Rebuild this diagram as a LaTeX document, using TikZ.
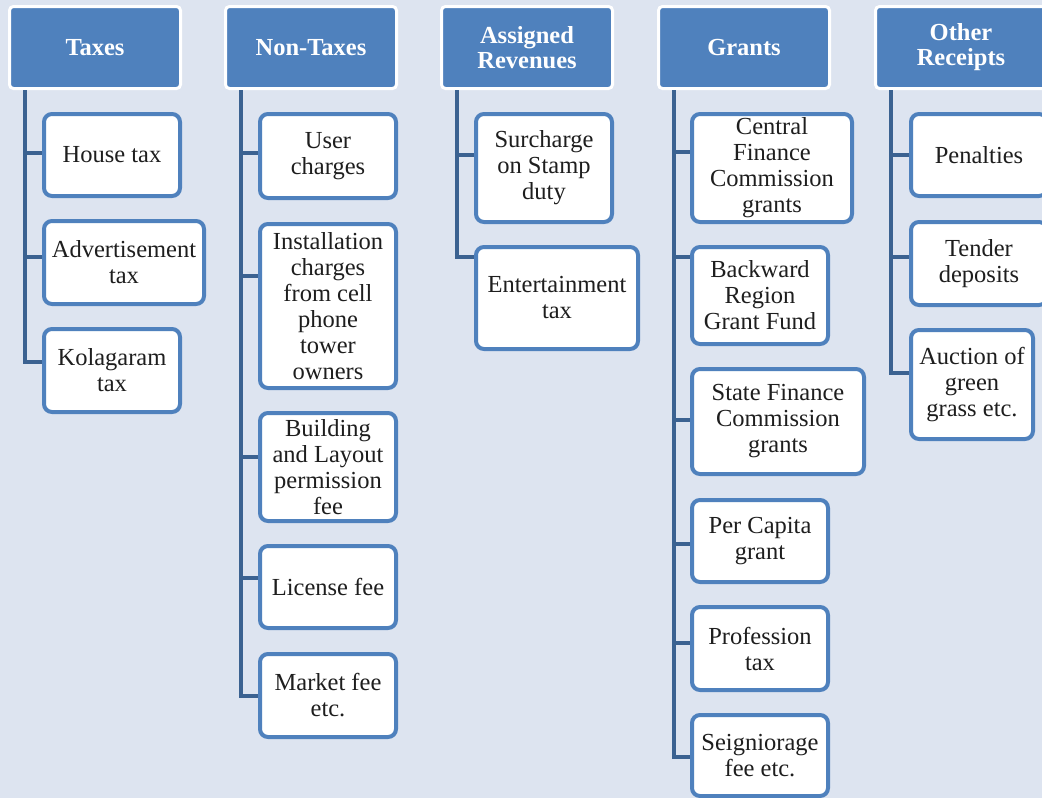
\documentclass[tikz,border=0pt]{standalone}
\usepackage{fontspec}
\setmainfont{Liberation Serif}
\usepackage{tikz}
\usetikzlibrary{%
        positioning
    }
\definecolor{page}{RGB}{221, 228, 240}
\definecolor{office}{RGB}{79, 129, 189}
\definecolor{stem}{RGB}{59, 98, 145}
\definecolor{ink}{RGB}{30, 30, 30}
\tikzset{%
    head/.style={%
        draw=white, line width=3pt, fill=office, rounded corners=4pt,
        anchor=north west, inner sep=0pt, align=center,
        minimum width=171pt, minimum height=82pt,
        text=white, font=\fontsize{24.5pt}{25pt}\selectfont\bfseries
    },
    item/.style={%
        draw=office, line width=4pt, fill=white, rounded corners=8pt,
        anchor=north west, inner sep=0pt, align=center,
        text=ink, font=\fontsize{24.5pt}{26pt}\selectfont
    },
    link/.style={%
        draw=stem, line width=4.5pt
    }
}

\begin{document}
\begin{tikzpicture}[x=1pt, y=-1pt]

    % Page
    \fill[page] (0, 0) rectangle (1042, 798);
    \useasboundingbox (0, 0) rectangle (1042, 798);

    % Headers
    \node[head] (taxes)    at (8, 5)   {Taxes};
    \node[head] (nontaxes) at (224, 5) {Non-Taxes};
    \node[head] (assigned) at (440, 5) {Assigned\\Revenues};
    \node[head] (grants)   at (657, 5) {Grants};
    \node[head] (other)    at (874, 5) {Other\\Receipts};

    % Taxes
    \node[item, minimum width=136pt, minimum height=82pt] (t1) at (42, 112) {House tax};
    \node[item, minimum width=160pt, minimum height=83pt] (t2) at (42, 219) {Advertisement\\tax};
    \node[item, minimum width=136pt, minimum height=83pt] (t3) at (42, 327) {Kolagaram\\tax};

    % Non-Taxes
    \node[item, minimum width=136pt, minimum height=84pt]  (n1) at (258, 112) {User\\charges};
    \node[item, minimum width=136pt, minimum height=164pt] (n2) at (258, 222)
        {Installation\\charges\\from cell\\phone\\tower\\owners};
    \node[item, minimum width=136pt, minimum height=108pt] (n3) at (258, 411)
        {Building\\and Layout\\permission\\fee};
    \node[item, minimum width=136pt, minimum height=82pt]  (n4) at (258, 544) {License fee};
    \node[item, minimum width=136pt, minimum height=83pt]  (n5) at (258, 652) {Market fee\\etc.};

    % Assigned Revenues
    \node[item, minimum width=136pt, minimum height=108pt] (a1) at (474, 112) {Surcharge\\on Stamp\\duty};
    \node[item, minimum width=162pt, minimum height=102pt] (a2) at (474, 245) {Entertainment\\tax};

    % Grants
    \node[item, minimum width=160pt, minimum height=108pt] (g1) at (690, 112)
        {Central\\Finance\\Commission\\grants};
    \node[item, minimum width=136pt, minimum height=97pt]  (g2) at (690, 245)
        {Backward\\Region\\Grant Fund};
    \node[item, minimum width=172pt, minimum height=105pt] (g3) at (690, 367)
        {State Finance\\Commission\\grants};
    \node[item, minimum width=136pt, minimum height=82pt]  (g4) at (690, 498) {Per Capita\\grant};
    \node[item, minimum width=136pt, minimum height=83pt]  (g5) at (690, 605) {Profession\\tax};
    \node[item, minimum width=136pt, minimum height=81pt]  (g6) at (690, 713) {Seigniorage\\fee etc.};

    % Other Receipts
    \node[item, minimum width=136pt, minimum height=82pt]  (o1) at (909, 112) {Penalties};
    \node[item, minimum width=136pt, minimum height=83pt]  (o2) at (909, 220) {Tender\\deposits};
    \node[item, minimum width=122pt, minimum height=109pt] (o3) at (909, 328)
        {Auction of\\green\\grass etc.};

    % Connecting headers to items
    \foreach \leaf/\off in {t1/41, t2/38, t3/35}
        \draw[link] ([xshift=17pt] taxes.south west) |- ([yshift=-\off pt] \leaf.north west);
    \foreach \leaf/\off in {n1/41, n2/54, n3/46, n4/34, n5/44}
        \draw[link] ([xshift=17pt] nontaxes.south west) |- ([yshift=-\off pt] \leaf.north west);
    \foreach \leaf/\off in {a1/43, a2/12}
        \draw[link] ([xshift=17pt] assigned.south west) |- ([yshift=-\off pt] \leaf.north west);
    \foreach \leaf/\off in {g1/40, g2/12, g3/53, g4/46, g5/38, g6/44}
        \draw[link] ([xshift=17pt] grants.south west) |- ([yshift=-\off pt] \leaf.north west);
    \foreach \leaf/\off in {o1/43, o2/37, o3/45}
        \draw[link] ([xshift=17pt] other.south west) |- ([yshift=-\off pt] \leaf.north west);

\end{tikzpicture}
\end{document}
